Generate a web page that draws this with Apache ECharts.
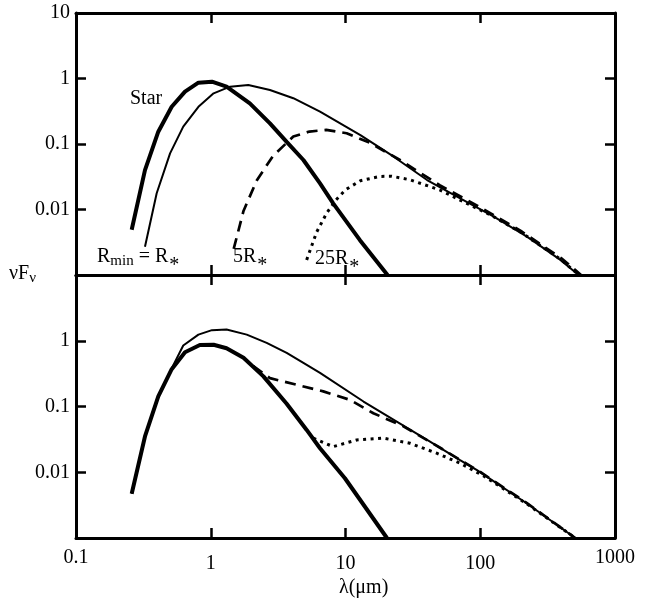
<!DOCTYPE html>
<html>
<head>
<meta charset="utf-8">
<script src="https://cdn.jsdelivr.net/npm/echarts@6/dist/echarts.min.js"></script>
<style>
  html, body { margin: 0; padding: 0; background: #fff; }
  #chart { width: 654px; height: 611px; }
</style>
</head>
<body>
<div id="chart"></div>
<script>
// top panel: R_min scan
var lamStarTop = [0.259, 0.325, 0.408, 0.513, 0.644, 0.81, 1.02, 1.31, 1.95, 2.75, 3.66, 4.87, 6.47, 8.1, 12.8, 20.5];
var fStarTop   = [0.0049, 0.040, 0.154, 0.37, 0.63, 0.863, 0.893, 0.75, 0.418, 0.207, 0.108, 0.057, 0.025, 0.0124, 0.0034, 0.001];

var lamR1Top = [0.325, 0.397, 0.499, 0.625, 0.81, 1.05, 1.39, 1.9, 2.75, 4.1, 6.47, 12.9, 22.8, 40.3, 71, 126, 222, 393, 537];
var fR1Top   = [0.0027, 0.0177, 0.072, 0.184, 0.37, 0.594, 0.75, 0.796, 0.667, 0.5, 0.311, 0.137, 0.064, 0.0282, 0.0148, 0.00776, 0.00385, 0.0017, 0.001];

var lamR5Top = [1.48, 1.75, 2.2, 2.9, 4.1, 5.4, 7.2, 10.2, 15.2, 25, 50, 100, 200, 400, 560];
var fR5Top   = [0.0025, 0.0095, 0.028, 0.066, 0.13, 0.155, 0.164, 0.146, 0.104, 0.058, 0.0235, 0.0108, 0.0047, 0.0018, 0.001];

var lamR25Top = [5.15, 6.1, 7.25, 8.5, 10, 12.9, 18, 22, 30, 50, 84, 120, 200, 400, 540];
var fR25Top   = [0.0017, 0.0045, 0.0088, 0.014, 0.020, 0.0275, 0.032, 0.0322, 0.0285, 0.0199, 0.0117, 0.0082, 0.0045, 0.0017, 0.001];

// bottom panel
var lamStarBot = [0.259, 0.325, 0.408, 0.513, 0.644, 0.83, 1.05, 1.31, 1.75, 2.46, 3.66, 5.15, 6.47, 9.9, 20.3];
var fStarBot   = [0.0047, 0.035, 0.142, 0.37, 0.67, 0.86, 0.87, 0.77, 0.55, 0.287, 0.11, 0.044, 0.0232, 0.0081, 0.001];

var lamTotBot = [0.259, 0.325, 0.408, 0.513, 0.625, 0.81, 1.02, 1.31, 1.85, 2.6, 3.66, 4.87, 6.47, 13.6, 24, 42.4, 70.8, 94.6, 222, 507];
var fTotBot   = [0.0047, 0.035, 0.145, 0.38, 0.845, 1.24, 1.45, 1.48, 1.24, 0.93, 0.653, 0.46, 0.324, 0.119, 0.059, 0.0292, 0.0153, 0.0108, 0.00335, 0.001];

var lamDashBot = [2.07, 2.75, 4.34, 6.84, 10.8, 16.1, 26.9, 50, 100, 222, 507];
var fDashBot   = [0.41, 0.27, 0.214, 0.17, 0.126, 0.079, 0.05, 0.0238, 0.0101, 0.0034, 0.001];

var lamDotBot = [5.77, 8.1, 12.1, 19.1, 30.1, 47.5, 70.8, 106, 222, 507];
var fDotBot   = [0.033, 0.0245, 0.031, 0.033, 0.0276, 0.0195, 0.0137, 0.0088, 0.0033, 0.001];

var serif = 'Liberation Serif';

function pairs(xs, ys) {
  return xs.map(function (x, i) { return [x, ys[i]]; });
}

function fmt(v) {
  return String(Number(v.toPrecision(1)));
}

// end labels (0.1, 1000) sit a little higher than the inner ones
function fmtX(v) {
  var s = fmt(v);
  return (v < 0.5 || v > 500) ? '{e|' + s + '}' : '{m|' + s + '}';
}

function axisX(grid, pos, showLabel) {
  return {
    type: 'log', logBase: 10, min: 0.1, max: 1000, gridIndex: grid, position: pos,
    axisLine: { lineStyle: { color: '#000', width: 3 } },
    axisTick: { inside: true, length: 10, lineStyle: { color: '#000', width: 2.5 } },
    axisLabel: { show: showLabel, margin: 10, color: '#000', fontFamily: serif, fontSize: 20,
                 showMinLabel: true, showMaxLabel: true, formatter: fmtX,
                 rich: {
                   e: { fontFamily: serif, fontSize: 20, color: '#000', padding: [0, 0, 0, 0] },
                   m: { fontFamily: serif, fontSize: 20, color: '#000', padding: [6, 0, 0, 0] }
                 } },
    splitLine: { show: false }, minorTick: { show: false }
  };
}

function axisY(grid, pos, labelFn) {
  return {
    type: 'log', logBase: 10, min: 0.001, max: 10, gridIndex: grid, position: pos,
    axisLine: { lineStyle: { color: '#000', width: 3 } },
    axisTick: { inside: true, length: 10, lineStyle: { color: '#000', width: 2.5 } },
    axisLabel: { show: !!labelFn, margin: 6, color: '#000', fontFamily: serif, fontSize: 20,
                 showMinLabel: true, showMaxLabel: true, formatter: labelFn || fmt },
    splitLine: { show: false }
  };
}

function line(xi, yi, data, width, type) {
  return {
    type: 'line', xAxisIndex: xi, yAxisIndex: yi, data: data,
    showSymbol: false, symbol: 'none', clip: true,
    lineStyle: { color: '#000', width: width, type: type || 'solid', cap: 'butt' }
  };
}

var subRich = {
  n: { fontFamily: serif, fontSize: 20, lineHeight: 24, verticalAlign: 'top' },
  s: { fontFamily: serif, fontSize: 15, lineHeight: 24, verticalAlign: 'top', padding: [7, 0, 0, 0] },
  a: { fontFamily: serif, fontSize: 20, lineHeight: 24, verticalAlign: 'top', padding: [9, 0, 0, 1] }
};

var chart = echarts.init(document.getElementById('chart'));

var dash = [11, 7];
var dot = [3, 4.5];

chart.setOption({
  animation: false,
  backgroundColor: '#fff',
  grid: [
    { left: 76, top: 13, width: 539, height: 262 },
    { left: 76, top: 275, width: 539, height: 263 }
  ],
  xAxis: [
    axisX(0, 'bottom', false),
    axisX(0, 'top', false),
    axisX(1, 'bottom', true),
    axisX(1, 'top', false)
  ],
  yAxis: [
    axisY(0, 'left', function (v) { return v < 0.005 ? '' : fmt(v); }),
    axisY(0, 'right', null),
    axisY(1, 'left', function (v) { return (v < 0.005 || v > 5) ? '' : fmt(v); }),
    axisY(1, 'right', null)
  ],
  series: [
    line(0, 0, pairs(lamStarTop, fStarTop), 4),
    line(0, 0, pairs(lamR1Top, fR1Top), 2),
    line(0, 0, pairs(lamR5Top, fR5Top), 2.7, dash),
    line(0, 0, pairs(lamR25Top, fR25Top), 3, dot),
    line(2, 2, pairs(lamStarBot, fStarBot), 4),
    line(2, 2, pairs(lamTotBot, fTotBot), 2),
    line(2, 2, pairs(lamDashBot, fDashBot), 2.7, dash),
    line(2, 2, pairs(lamDotBot, fDotBot), 3, dot)
  ],
  graphic: [
    { type: 'text', left: 130, top: 89, style: { text: 'Star', font: '20px ' + serif, fill: '#000' } },
    { type: 'text', left: 97, top: 247, style: { text: '{n|R}{s|min}{n| = R}{a|*}', fill: '#000', rich: subRich } },
    { type: 'text', left: 233, top: 247, style: { text: '{n|5R}{a|*}', fill: '#000', rich: subRich } },
    { type: 'text', left: 315, top: 249, style: { text: '{n|25R}{a|*}', fill: '#000', rich: subRich } },
    { type: 'text', left: 9, top: 264, style: { text: '{n|\u03bdF}{s|\u03bd}', fill: '#000', rich: subRich } },
    { type: 'text', left: 339, top: 578, style: { text: '\u03bb(\u03bcm)', font: '20px ' + serif, fill: '#000' } }
  ]
});
</script>
</body>
</html>
